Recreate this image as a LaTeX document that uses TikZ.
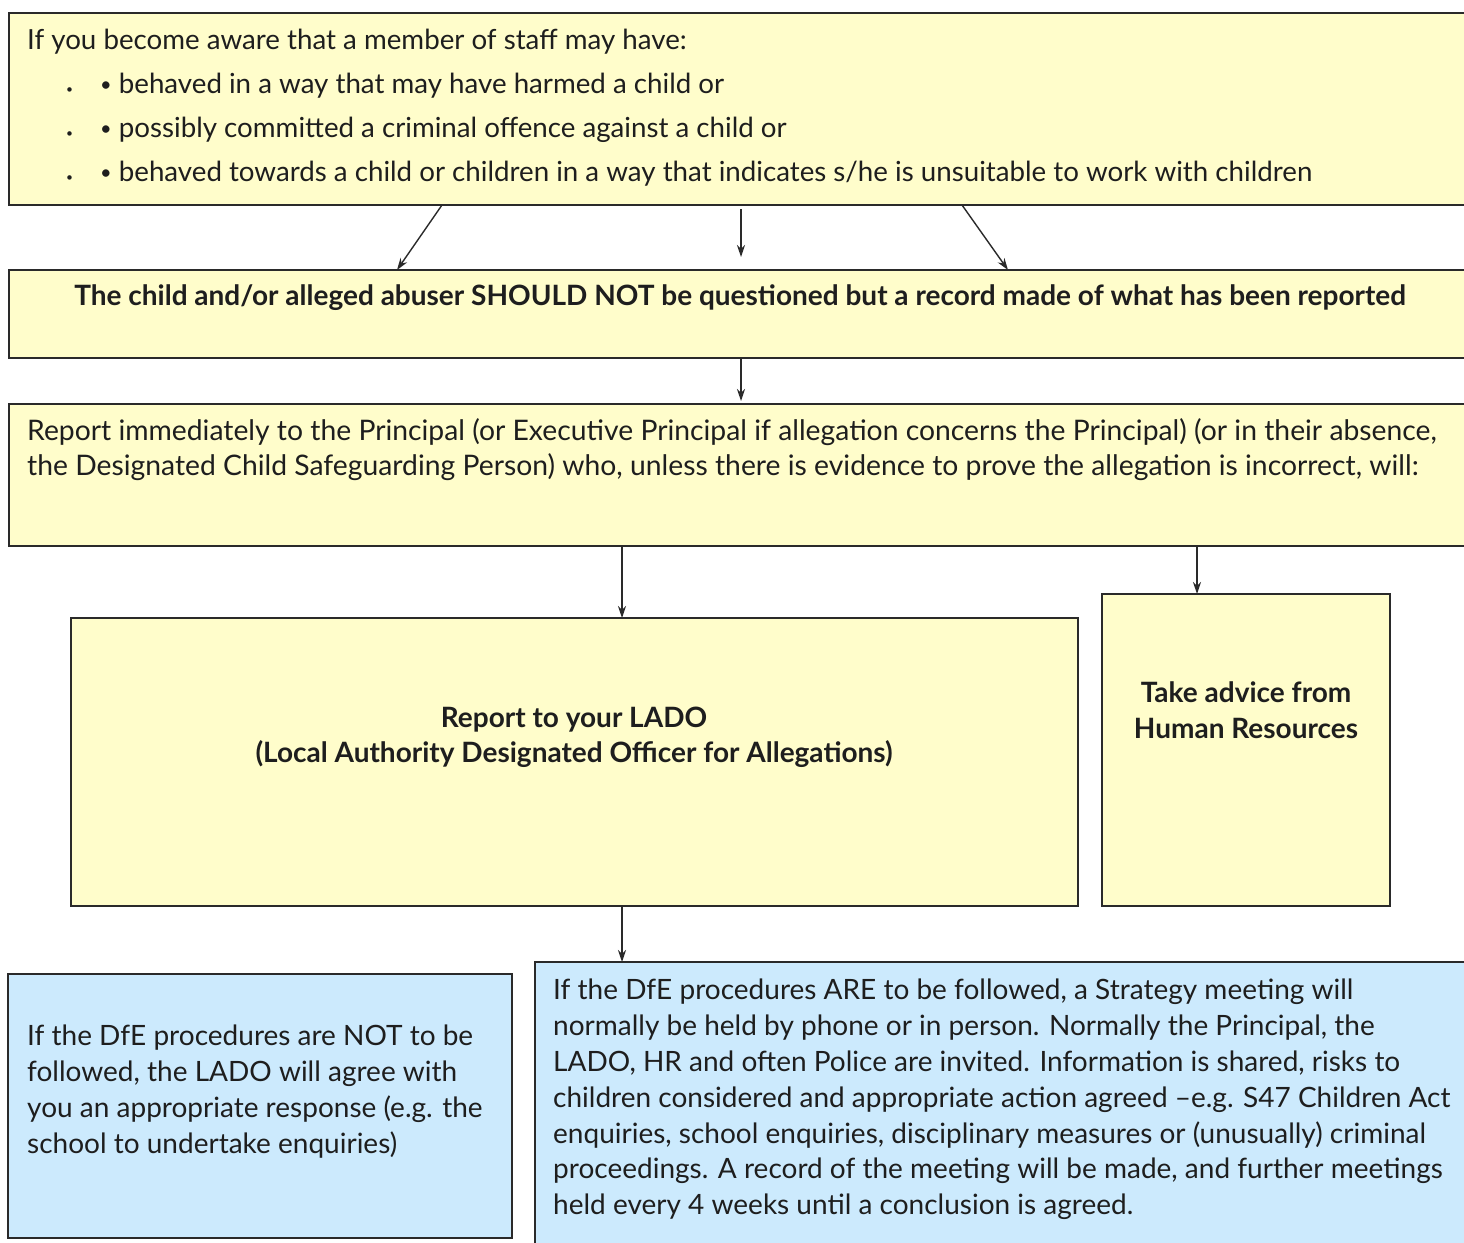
\documentclass[tikz,border=0pt]{standalone}
\usepackage{fontspec}
\setmainfont{Lato}
\usetikzlibrary{arrows.meta}
\definecolor{ylw}{HTML}{FFFDCB}
\definecolor{blu}{HTML}{CCEAFD}
\definecolor{edge}{HTML}{2A2A2A}
\definecolor{txt}{HTML}{1E1E1E}
\newcommand{\smbul}{\raisebox{1.5pt}{\fontsize{20}{20}\selectfont•}}
\begin{document}
\begin{tikzpicture}[x=1pt,y=-1pt,
  box/.style={draw=edge,line width=1.6pt,anchor=north west,inner sep=0pt,outer sep=0pt},
  ybox/.style={box,fill=ylw},
  bbox/.style={box,fill=blu},
  txt/.style={text=txt,inner sep=0pt,font=\fontsize{28}{35}\selectfont},
  arr/.style={draw=edge,line width=1.4pt,-{Stealth[length=12pt,width=8pt]}}]
\clip (0,0) rectangle (1464,1242);
\fill[white] (0,0) rectangle (1464,1242);
% boxes
\node[ybox,minimum width=1470pt,minimum height=192pt] (top) at (9,13) {};
\node[ybox,minimum width=1470pt,minimum height=88pt] (rec) at (9,270) {};
\node[ybox,minimum width=1470pt,minimum height=142pt] (rep) at (9,404) {};
\node[ybox,minimum width=1007pt,minimum height=288pt] (lado) at (71,618) {};
\node[ybox,minimum width=288pt,minimum height=312pt] (hr) at (1102,594) {};
\node[bbox,minimum width=504pt,minimum height=264pt] (no) at (8,974) {};
\node[bbox,minimum width=940pt,minimum height=300pt] (yes) at (535,962) {};
% texts
\node[txt,anchor=base west,font=\fontsize{27.7}{35}\selectfont] (t0) at (27,49) {If you become aware that a member of staff may have:};
\node[txt,anchor=base west] (d1) at (66,93) {\fontsize{12}{12}\selectfont\textbullet};
\node[txt,anchor=base west] (d2) at (66,137) {\fontsize{12}{12}\selectfont\textbullet};
\node[txt,anchor=base west] (d3) at (66,181) {\fontsize{12}{12}\selectfont\textbullet};
\node[txt,anchor=base west,font=\fontsize{27.7}{35}\selectfont] (t1) at (100,93) {\smbul\ behaved in a way that may have harmed a child or};
\node[txt,anchor=base west,font=\fontsize{27.7}{35}\selectfont] (t2) at (100,137) {\smbul\ possibly committed a criminal offence against a child or};
\node[txt,anchor=base west,font=\fontsize{27.7}{35}\selectfont] (t3) at (100,181) {\smbul\ behaved towards a child or children in a way that indicates s/he is unsuitable to work with children};
\node[txt,anchor=base,font=\fontsize{28}{35}\selectfont\bfseries] (t4) at (740,305) {The child and/or alleged abuser SHOULD NOT be questioned but a record made of what has been reported};
\node[txt,anchor=base west,align=left,font=\fontsize{28.3}{35}\selectfont] (t5) at (27,475) {Report immediately to the Principal (or Executive Principal if allegation concerns the Principal) (or in their absence,\\the Designated Child Safeguarding Person) who, unless there is evidence to prove the allegation is incorrect, will:};
\node[txt,anchor=north,align=center,font=\fontsize{28}{35}\selectfont\bfseries] (t6) at (574,707) {Report to your LADO\\(Local Authority Designated Officer for Allegations)};
\node[txt,anchor=north,align=center,font=\fontsize{28}{36}\selectfont\bfseries] (t7) at (1246,681) {Take advice from\\Human Resources};
\node[txt,anchor=north west,align=left,font=\fontsize{28}{35.8}\selectfont] (t8) at (27,1025) {If the DfE procedures are NOT to be\\followed, the LADO will agree with\\you an appropriate response (e.g. the\\school to undertake enquiries)};
\node[txt,anchor=north west,align=left,font=\fontsize{28}{35.8}\selectfont] (t9) at (553,979) {If the DfE procedures ARE to be followed, a Strategy meeting will\\normally be held by phone or in person. Normally the Principal, the\\LADO, HR and often Police are invited. Information is shared, risks to\\children considered and appropriate action agreed –e.g. S47 Children Act\\enquiries, school enquiries, disciplinary measures or (unusually) criminal\\proceedings. A record of the meeting will be made, and further meetings\\held every 4 weeks until a conclusion is agreed.};
% arrow end points
\coordinate (a1s) at (top.south west -| 442,0);
\coordinate (a1e) at (rec.north west -| 397,0);
\coordinate (a2s) at (741,209);
\coordinate (a2e) at (741,257);
\coordinate (a3s) at (top.south west -| 962,0);
\coordinate (a3e) at (rec.north west -| 1008,0);
\coordinate (a4s) at (rec.south west -| 741,0);
\coordinate (a4e) at (741,401);
\coordinate (a5s) at (rep.south west -| 622,0);
\coordinate (a6s) at (rep.south west -| 1197,0);
\coordinate (a7s) at (lado.south west -| 622,0);
\draw[arr] (a1s) -- (a1e);
\draw[arr] (a2s) -- (a2e);
\draw[arr] (a3s) -- (a3e);
\draw[arr] (a4s) -- (a4e);
\draw[arr] (a5s) -- (lado.north west -| a5s);
\draw[arr] (a6s) -- (hr.north west -| a6s);
\draw[arr] (a7s) -- (yes.north west -| a7s);
\end{tikzpicture}
\end{document}
